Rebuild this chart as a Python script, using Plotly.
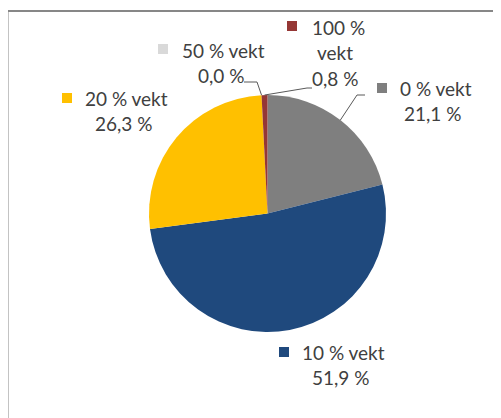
import math
import plotly.graph_objects as go

# ---- data ----
categories = ["0 % vekt", "10 % vekt", "20 % vekt", "50 % vekt", "100 % vekt"]
shares = [21.1, 51.9, 26.3, 0.0, 0.8]
colors = ["#7F7F7F", "#1F497D", "#FFC000", "#D9D9D9", "#953735"]

# ---- layout (screen pixel space; page body has an 8px margin) ----
W, H = 501, 418
OFF = 8
FW, FH = W - OFF, H - OFF
CX, CY, R = 267.5, 213.5, 118.5
FONT = dict(family="Lato, 'Open Sans', sans-serif", size=19, color="#404040")
LINE_H = 25.5

# per-label placement: marker centre, left of first text line, centre x of following lines,
# first line y, where to wrap the name (None = no wrap), leader elbow/end points (or None)
label_pos = {
    "0 % vekt":   dict(mk=(382, 88), tx=398, cx=432.5, y=88,  wrap=None, lead=[(357, 95), (365, 95)]),
    "10 % vekt":  dict(mk=(284, 352), tx=300, cx=340.5, y=352, wrap=None, lead=None),
    "20 % vekt":  dict(mk=(67, 98),  tx=83,  cx=123.5, y=98,  wrap=None, lead=None),
    "50 % vekt":  dict(mk=(163, 49), tx=180, cx=220.5, y=50,  wrap=None, lead=[(257, 82), (244, 82)]),
    "100 % vekt": dict(mk=(292, 26), tx=310, cx=335,   y=27,  wrap=5,    lead=[(307, 88), (312, 88)]),
}


def fmt(v):
    return f"{v:.1f}".replace(".", ",") + " %"


fig = go.Figure()

fig.add_trace(go.Pie(
    labels=categories, values=shares, sort=False, direction="clockwise", rotation=0,
    marker=dict(colors=colors, line=dict(width=0)),
    textinfo="none", hoverinfo="label+percent", showlegend=False,
    domain=dict(x=[(CX - R - OFF) / FW, (CX + R - OFF) / FW],
                y=[1 - (CY + R - OFF) / FH, 1 - (CY - R - OFF) / FH]),
))

# legend-key squares next to labels
fig.add_trace(go.Scatter(
    x=[label_pos[c]["mk"][0] for c in categories],
    y=[label_pos[c]["mk"][1] for c in categories],
    mode="markers", marker=dict(symbol="square", size=10, color=colors, line=dict(width=0)),
    hoverinfo="skip", showlegend=False,
))

annotations = []
shapes = []
total = sum(shares)
cum = 0.0
for cat, val in zip(categories, shares):
    p = label_pos[cat]
    mid = (cum + val / 2) / total * 2 * math.pi
    cum += val
    if p["wrap"]:
        first, rest = cat[:p["wrap"]], [cat[p["wrap"]:].strip()]
    else:
        first, rest = cat, []
    lines_rest = rest + [fmt(val)]
    annotations.append(dict(x=p["tx"], y=p["y"], xref="x", yref="y", text=first,
                            showarrow=False, xanchor="left", yanchor="middle", font=FONT))
    for i, t in enumerate(lines_rest):
        annotations.append(dict(x=p["cx"], y=p["y"] + LINE_H * (i + 1), xref="x", yref="y", text=t,
                                showarrow=False, xanchor="center", yanchor="middle", font=FONT))
    if p["lead"]:
        ex, ey = CX + R * math.sin(mid), CY - R * math.cos(mid)
        pts = [(ex, ey)] + p["lead"]
        path = "M " + " L ".join(f"{x},{y}" for x, y in pts)
        shapes.append(dict(type="path", path=path, xref="x", yref="y",
                           line=dict(color="#595959", width=1)))

# chart frame
shapes.append(dict(type="rect", xref="x", yref="y", x0=7.5, y0=11, x1=W + 20, y1=H + 20,
                   line=dict(color="#878787", width=2), fillcolor="rgba(0,0,0,0)"))

fig.update_layout(
    width=FW, height=FH, margin=dict(l=0, r=0, t=0, b=0),
    paper_bgcolor="white", plot_bgcolor="rgba(0,0,0,0)",
    xaxis=dict(range=[OFF, W], visible=False, fixedrange=True),
    yaxis=dict(range=[H, OFF], visible=False, fixedrange=True),
    annotations=annotations, shapes=shapes,
)

fig.write_html("out.html")
